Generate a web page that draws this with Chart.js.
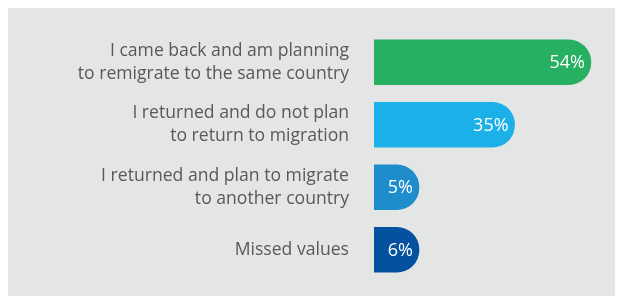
<!DOCTYPE html>
<html>
<head>
<meta charset="utf-8">
<script src="https://cdn.jsdelivr.net/npm/chart.js@4.4.1/dist/chart.umd.min.js"></script>
<style>
  html, body { margin: 0; padding: 0; background: #ffffff; }
  #wrap { position: absolute; left: 8px; top: 8px; width: 607px; height: 288px; background: #e4e5e5; }
  canvas { display: block; }
</style>
</head>
<body>
<div id="wrap"><canvas id="c" width="607" height="288"></canvas></div>
<script>
const categories = [
  ["I came back and am planning", "to remigrate to the same country"],
  ["I returned and do not plan", "to return to migration"],
  ["I returned and plan to migrate", "to another country"],
  "Missed values"
];
const values = [54, 35, 5, 6];
const valueLabels = ["54%", "35%", "5%", "6%"];
const barColors = ["#27b062", "#1bb1e8", "#1f8ccc", "#04519f"];

const valueLabelPlugin = {
  id: 'valueLabels',
  afterDatasetsDraw(chart) {
    const ctx = chart.ctx;
    const meta = chart.getDatasetMeta(0);
    ctx.save();
    ctx.fillStyle = '#ffffff';
    ctx.font = '18px "Open Sans"';
    ctx.textAlign = 'right';
    ctx.textBaseline = 'middle';
    meta.data.forEach((bar, i) => {
      ctx.fillText(valueLabels[i], bar.x - 6, bar.y + 1);
    });
    ctx.restore();
  }
};

new Chart(document.getElementById('c'), {
  type: 'bar',
  data: {
    labels: categories,
    datasets: [{
      data: values,
      backgroundColor: barColors,
      borderRadius: 23,
      borderSkipped: 'start',
      barThickness: 45,
      minBarLength: 45
    }]
  },
  options: {
    indexAxis: 'y',
    responsive: false,
    animation: false,
    layout: { padding: { top: 23, bottom: 15, left: 0, right: 0 } },
    plugins: { legend: { display: false }, tooltip: { enabled: false } },
    scales: {
      x: { display: false, min: 0, max: 60 },
      y: {
        grid: { display: false, drawTicks: false },
        border: { display: false },
        ticks: {
          color: '#595959',
          padding: 25,
          font: { family: '"Open Sans"', size: 17.6, lineHeight: 1.32 }
        },
        afterFit(scale) {
          scale.width = 366;
          scale.paddingTop = 0;
          scale.paddingBottom = 0;
        }
      }
    }
  },
  plugins: [valueLabelPlugin]
});
</script>
</body>
</html>
